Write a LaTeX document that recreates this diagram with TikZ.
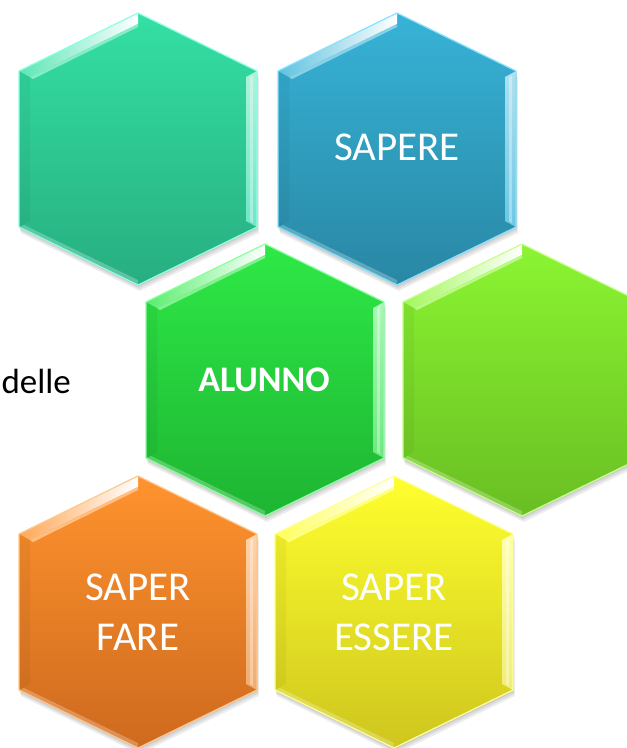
\documentclass[tikz,border=0pt]{standalone}
\usepackage{fontspec}
\setmainfont{Carlito}
\usepackage{tikz}

\definecolor{hxtealA}{HTML}{34E0A4}
\definecolor{hxtealB}{HTML}{27AE80}
\definecolor{hxtealC}{HTML}{8CFFE6}
\definecolor{hxblueA}{HTML}{37B3D7}
\definecolor{hxblueB}{HTML}{2987A4}
\definecolor{hxblueC}{HTML}{86E2FF}
\definecolor{hxgreenA}{HTML}{2EE947}
\definecolor{hxgreenB}{HTML}{1EB432}
\definecolor{hxgreenC}{HTML}{8CFFA0}
\definecolor{hxlimeA}{HTML}{8BF532}
\definecolor{hxlimeB}{HTML}{69BE22}
\definecolor{hxlimeC}{HTML}{C6FF8C}
\definecolor{hxorangeA}{HTML}{FF932E}
\definecolor{hxorangeB}{HTML}{CE6A1F}
\definecolor{hxorangeC}{HTML}{FFC88C}
\definecolor{hxyellowA}{HTML}{FFFF2E}
\definecolor{hxyellowB}{HTML}{CEC61E}
\definecolor{hxyellowC}{HTML}{FFFF9A}

\begin{document}
\begin{tikzpicture}[
  x=1pt, y=-1pt,
  celltext/.style = {text=white, inner sep=0pt, align=center,
                     font=\fontsize{41}{50}\selectfont},
  shade off/.style = {fill=black, opacity=0.07}
  ]

  \useasboundingbox (0,0) rectangle (627,748);
  \clip (0,0) rectangle (627,748);

  % hexagon cells
  \foreach \n/\cx/\cy/\col in {teal/138/149/hxteal, blue/397/149/hxblue,
      green/265/380/hxgreen, lime/522/380/hxlime,
      orange/138/612/hxorange, yellow/394/612/hxyellow} {
    \begin{scope}[shift={(\cx,\cy)}]
      \coordinate (h\n) at (0,0);
      % soft shadow
      \foreach \s in {2,4,6}
        \fill[shade off] (\s*0.3,-136+\s) -- (119+\s*0.3,-78+\s) -- (119+\s*0.3,78+\s)
          -- (\s*0.3,136+\s) -- (-119+\s*0.3,78+\s) -- (-119+\s*0.3,-78+\s) -- cycle;
      % body
      \shade[top color=\col A, bottom color=\col B]
        (0,-136) -- (119,-78) -- (119,78) -- (0,136) -- (-119,78) -- (-119,-78) -- cycle;
      % bevel facets
      \shade[left color=\col A!80!white, right color=white]
        (-119,-78) -- (0,-136) -- (0,-125) -- (-108,-72) -- cycle;
      \fill[\col A!60!white] (-108,-72) -- (0,-125) -- (0,-122) -- (-105,-70) -- cycle;
      \shade[top color=white!60!\col A, bottom color=\col C!70!\col B]
        (119,-78) -- (119,78) -- (108,72) -- (108,-72) -- cycle;
      \fill[white, opacity=0.35] (115,-74) -- (115,74) -- (112,72) -- (112,-72) -- cycle;
      \fill[black, opacity=0.04] (-119,-78) -- (-108,-72) -- (-108,72) -- (-119,78) -- cycle;
      \fill[white, opacity=0.25] (-119,78) -- (0,136) -- (0,131) -- (-114,76) -- cycle;
      % rim
      \draw[\col C, line width=1.2pt, line join=miter]
        (0,-136) -- (119,-78) -- (119,78) -- (0,136) -- (-119,78) -- (-119,-78) -- cycle;
    \end{scope}
  }

  % labels
  \node[celltext] (sapere) at (397,147) {SAPERE};
  \node[celltext, font=\bfseries\fontsize{36}{44}\selectfont] (alunno) at (264,380) {ALUNNO};
  \node[celltext] (saperfare) at (138,612) {SAPER\\FARE};
  \node[celltext] (saperessere) at (394,612) {SAPER\\ESSERE};

  % cut-off text at the left
  \node[anchor=base east, inner sep=0pt, font=\fontsize{35}{40}\selectfont] (delle) at (71,393) {delle};

\end{tikzpicture}
\end{document}
